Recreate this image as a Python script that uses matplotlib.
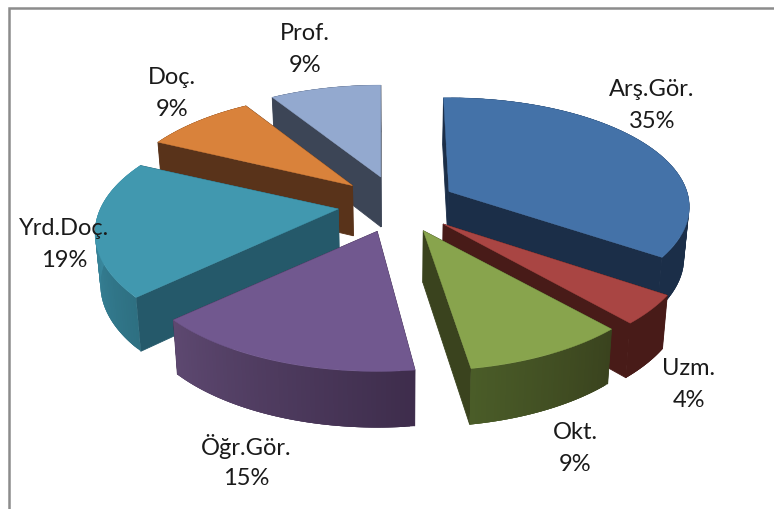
import matplotlib
matplotlib.use('Agg')
import matplotlib.pyplot as plt
import numpy as np

# Chart data
labels = ['Arş.Gör.', 'Uzm.', 'Okt.', 'Öğr.Gör.', 'Yrd.Doç.', 'Doç.', 'Prof.']
values = [35, 4, 9, 15, 19, 9, 9]

# Colours: top face, cut face, outer face at both ends of the slice
top_colors = ['#4472a8', '#a94543', '#88a44d', '#71588f', '#4198af', '#d9823b', '#93a9cf']
cut_colors = ['#1b2e48', '#481b18', '#3a431e', '#3e2d4c', '#25596a', '#59331a', '#3c4556']
arc_start = ['#1b2e48', '#481b18', '#3a431e', '#3e2d4c', '#2e7082', '#59331a', '#3c4556']
arc_end = ['#1b2e48', '#481b18', '#4a5c28', '#5d4870', '#4097af', '#59331a', '#3c4556']

# Label positions in pixels (name line, percent line is below it)
label_x = [652, 689, 575, 246, 64, 172, 305]
label_y = [89, 369, 433, 447, 229, 77, 33]

# Projection of the pie, in pixels, tuned a bit per slice
cx, cy = 397.5, 205.5
explode_x, explode_y = 60, 28.6
radius_x = [238, 240, 240, 240, 238, 234, 238]
radius_y = [107, 111, 111, 111, 111, 111, 111]
persp = [0.141, 0.207, 0.207, 0.207, 0.207, 0.207, 0.207]
nudge_x = [-2, 2, 2, 0, 0, 0, 0]
turn_deg = [1.5, 1.5, 1.9, 0, 0, 0, 0]


def top_point(i, apex, theta):
    theta = theta - np.radians(turn_deg[i])
    s = 1 / (1 + persp[i] * np.cos(theta))
    return apex[0] + radius_x[i] * np.sin(theta) * s, apex[1] - radius_y[i] * np.cos(theta) * s


def lower(x, y):
    # the bottom of the slab is a bit smaller and deeper towards the viewer
    x, y = np.asarray(x), np.asarray(y)
    return x - (x - cx) * 0.018, y + 50 + (y - 180) * 0.032


fig = plt.figure(figsize=(7.74, 5.10), dpi=100)
ax = fig.add_axes([0, 0, 1, 1])
ax.set_xlim(0, 774)
ax.set_ylim(510, 0)
ax.axis('off')

edges = np.radians(np.cumsum([0] + values) * 3.6)

# Back slices first
draw_order = [6, 5, 4, 0, 1, 2, 3]
for z, i in enumerate(draw_order):
    t0, t1 = edges[i], edges[i + 1]
    mid = (t0 + t1) / 2
    apex = (cx + explode_x * np.sin(mid) + nudge_x[i], cy - explode_y * np.cos(mid))
    z_base = 10 + z * 10

    thetas = np.linspace(t0, t1, 60)
    xs, ys = top_point(i, apex, thetas)
    bx, by = lower(xs, ys)
    ax_b, ay_b = lower(apex[0], apex[1])

    # cut faces
    for j in [0, -1]:
        ax.fill([apex[0], xs[j], bx[j], ax_b], [apex[1], ys[j], by[j], ay_b],
                color=cut_colors[i], lw=0.6, zorder=z_base)

    # outer face, strips overlap the next one so no seams show in the gradient
    c0 = np.array(matplotlib.colors.to_rgb(arc_start[i]))
    c1 = np.array(matplotlib.colors.to_rgb(arc_end[i]))
    for k in range(len(thetas) - 1):
        f = k / (len(thetas) - 2)
        e = min(k + 3, len(thetas) - 1)
        ax.fill(np.r_[xs[k:e + 1], bx[k:e + 1][::-1]], np.r_[ys[k:e + 1], by[k:e + 1][::-1]],
                color=c0 + (c1 - c0) * f, lw=0, zorder=z_base + 1)

    # top face
    ax.fill(np.r_[apex[0], xs], np.r_[apex[1], ys], color=top_colors[i], lw=0.3, zorder=z_base + 2)

    ax.text(label_x[i], label_y[i], labels[i], ha='center', va='center',
            family='Lato', fontsize=17, color='#1a1a1a', zorder=200)
    ax.text(label_x[i], label_y[i] + 32, '%d%%' % values[i], ha='center', va='center',
            family='Lato', fontsize=17, color='#1a1a1a', zorder=200)

# Frame of the chart, only the top and left sides are in the picture
ax.plot([9, 9, 774], [510, 8.5, 8.5], color='#8c8c8c', lw=1.8, zorder=300, solid_joinstyle='miter')

fig.savefig('out.png', dpi=100)
